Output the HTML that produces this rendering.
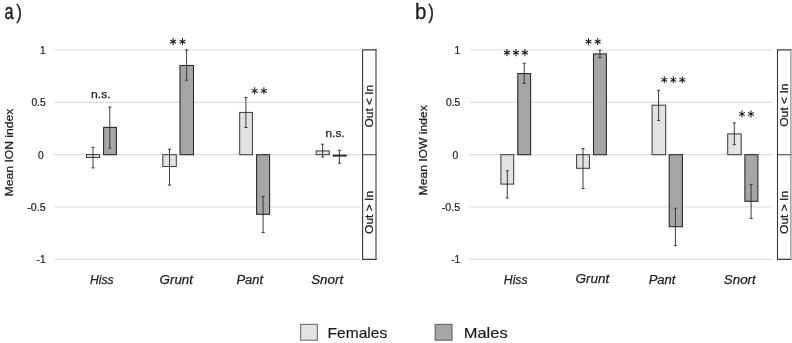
<!DOCTYPE html>
<html><head><meta charset="utf-8"><title>Figure</title>
<style>
html,body{margin:0;padding:0;background:#ffffff;}
body{width:792px;height:343px;overflow:hidden;}
svg{display:block;filter:blur(0.35px);}
svg text{font-family:"Liberation Sans",sans-serif;fill:#1c1c1c;}
</style></head>
<body>
<svg width="792" height="343" viewBox="0 0 792 343">
<rect x="0" y="0" width="792" height="343" fill="#ffffff"/>
<line x1="54.6" y1="49.9" x2="360.6" y2="49.9" stroke="#e3e3e3" stroke-width="1.2"/>
<line x1="54.6" y1="102.4" x2="360.6" y2="102.4" stroke="#dcdcdc" stroke-width="1.2"/>
<line x1="54.6" y1="154.7" x2="360.6" y2="154.7" stroke="#dcdcdc" stroke-width="1.2"/>
<line x1="54.6" y1="207.0" x2="360.6" y2="207.0" stroke="#dcdcdc" stroke-width="1.2"/>
<line x1="54.6" y1="259.4" x2="360.6" y2="259.4" stroke="#dcdcdc" stroke-width="1.2"/>
<rect x="86.50" y="154.60" width="13.10" height="2.90" fill="#e2e2e2" stroke="#383838" stroke-width="1.0"/>
<path d="M93.00 147.40V167.90M91.40 147.40H94.60M91.40 167.90H94.60" stroke="#333333" stroke-width="0.95" fill="none"/>
<rect x="103.60" y="127.40" width="12.80" height="27.30" fill="#a6a6a6" stroke="#2a2a2a" stroke-width="1.1"/>
<path d="M109.80 107.10V148.10M108.20 107.10H111.40M108.20 148.10H111.40" stroke="#333333" stroke-width="0.95" fill="none"/>
<rect x="162.80" y="154.70" width="13.50" height="11.80" fill="#e2e2e2" stroke="#383838" stroke-width="1.0"/>
<path d="M169.50 149.30V185.10M167.90 149.30H171.10M167.90 185.10H171.10" stroke="#333333" stroke-width="0.95" fill="none"/>
<rect x="180.00" y="65.50" width="13.50" height="89.20" fill="#a6a6a6" stroke="#2a2a2a" stroke-width="1.1"/>
<path d="M186.60 49.90V80.20M185.00 49.90H188.20M185.00 80.20H188.20" stroke="#333333" stroke-width="0.95" fill="none"/>
<rect x="239.70" y="112.40" width="12.70" height="42.30" fill="#e2e2e2" stroke="#383838" stroke-width="1.0"/>
<path d="M245.90 97.40V127.50M244.30 97.40H247.50M244.30 127.50H247.50" stroke="#333333" stroke-width="0.95" fill="none"/>
<rect x="256.60" y="154.70" width="13.00" height="59.60" fill="#a6a6a6" stroke="#2a2a2a" stroke-width="1.1"/>
<path d="M263.10 196.40V232.50M261.50 196.40H264.70M261.50 232.50H264.70" stroke="#333333" stroke-width="0.95" fill="none"/>
<rect x="316.20" y="150.90" width="13.00" height="3.80" fill="#e2e2e2" stroke="#383838" stroke-width="1.0"/>
<path d="M322.60 144.20V157.00M321.00 144.20H324.20M321.00 157.00H324.20" stroke="#333333" stroke-width="0.95" fill="none"/>
<rect x="333.30" y="155.10" width="13.00" height="1.00" fill="#a6a6a6" stroke="#2a2a2a" stroke-width="0.95"/>
<path d="M339.40 150.30V163.20M337.80 150.30H341.00M337.80 163.20H341.00" stroke="#333333" stroke-width="0.95" fill="none"/>
<line x1="469.6" y1="49.9" x2="772.8" y2="49.9" stroke="#e3e3e3" stroke-width="1.2"/>
<line x1="469.6" y1="102.4" x2="772.8" y2="102.4" stroke="#dcdcdc" stroke-width="1.2"/>
<line x1="469.6" y1="154.7" x2="772.8" y2="154.7" stroke="#dcdcdc" stroke-width="1.2"/>
<line x1="469.6" y1="207.0" x2="772.8" y2="207.0" stroke="#dcdcdc" stroke-width="1.2"/>
<line x1="469.6" y1="259.4" x2="772.8" y2="259.4" stroke="#dcdcdc" stroke-width="1.2"/>
<rect x="500.90" y="154.70" width="12.80" height="29.40" fill="#e2e2e2" stroke="#383838" stroke-width="1.0"/>
<path d="M507.30 170.70V198.00M505.70 170.70H508.90M505.70 198.00H508.90" stroke="#333333" stroke-width="0.95" fill="none"/>
<rect x="517.80" y="73.60" width="12.80" height="81.10" fill="#a6a6a6" stroke="#2a2a2a" stroke-width="1.1"/>
<path d="M524.20 63.30V83.40M522.60 63.30H525.80M522.60 83.40H525.80" stroke="#333333" stroke-width="0.95" fill="none"/>
<rect x="576.60" y="154.70" width="12.80" height="13.60" fill="#e2e2e2" stroke="#383838" stroke-width="1.0"/>
<path d="M583.00 148.60V188.50M581.40 148.60H584.60M581.40 188.50H584.60" stroke="#333333" stroke-width="0.95" fill="none"/>
<rect x="593.50" y="53.90" width="12.90" height="100.80" fill="#a6a6a6" stroke="#2a2a2a" stroke-width="1.1"/>
<path d="M599.90 50.30V57.60M598.30 50.30H601.50M598.30 57.60H601.50" stroke="#333333" stroke-width="0.95" fill="none"/>
<rect x="652.10" y="105.20" width="13.60" height="49.50" fill="#e2e2e2" stroke="#383838" stroke-width="1.0"/>
<path d="M658.60 90.30V120.40M657.00 90.30H660.20M657.00 120.40H660.20" stroke="#333333" stroke-width="0.95" fill="none"/>
<rect x="669.20" y="154.70" width="13.20" height="72.00" fill="#a6a6a6" stroke="#2a2a2a" stroke-width="1.1"/>
<path d="M675.40 208.20V245.60M673.80 208.20H677.00M673.80 245.60H677.00" stroke="#333333" stroke-width="0.95" fill="none"/>
<rect x="727.70" y="133.90" width="13.50" height="20.80" fill="#e2e2e2" stroke="#383838" stroke-width="1.0"/>
<path d="M734.30 122.90V144.60M732.70 122.90H735.90M732.70 144.60H735.90" stroke="#333333" stroke-width="0.95" fill="none"/>
<rect x="744.90" y="154.70" width="13.00" height="46.60" fill="#a6a6a6" stroke="#2a2a2a" stroke-width="1.1"/>
<path d="M751.10 184.40V218.40M749.50 184.40H752.70M749.50 218.40H752.70" stroke="#333333" stroke-width="0.95" fill="none"/>
<rect x="362.6" y="49.9" width="13.40" height="209.50" fill="#ffffff" stroke="none"/>
<path d="M376.0 49.9H362.6V259.4H376.0M362.6 154.7H376.0" fill="none" stroke="#3a3a3a" stroke-width="1.1" stroke-linecap="square"/>
<line x1="376.0" y1="49.9" x2="376.0" y2="259.4" stroke="#3a3a3a" stroke-width="1.1" stroke-linecap="square"/>
<rect x="777.5" y="49.9" width="13.40" height="209.50" fill="#ffffff" stroke="none"/>
<path d="M790.9 49.9H777.5V259.4H790.9M777.5 154.7H790.9" fill="none" stroke="#3a3a3a" stroke-width="1.1" stroke-linecap="square"/>
<line x1="790.9" y1="49.9" x2="790.9" y2="259.4" stroke="#7d7d7d" stroke-width="1.1" stroke-linecap="square"/>
<path d="M173.10 38.05V45.15M170.20 39.93L176.00 43.27M176.00 39.93L170.20 43.27" stroke="#1c1c1c" stroke-width="1.05" fill="none"/>
<path d="M182.50 38.05V45.15M179.60 39.93L185.40 43.27M185.40 39.93L179.60 43.27" stroke="#1c1c1c" stroke-width="1.05" fill="none"/>
<path d="M254.70 87.25V94.35M251.80 89.12L257.60 92.47M257.60 89.12L251.80 92.47" stroke="#1c1c1c" stroke-width="1.05" fill="none"/>
<path d="M263.90 87.25V94.35M261.00 89.12L266.80 92.47M266.80 89.12L261.00 92.47" stroke="#1c1c1c" stroke-width="1.05" fill="none"/>
<path d="M506.90 49.05V56.15M504.00 50.93L509.80 54.27M509.80 50.93L504.00 54.27" stroke="#1c1c1c" stroke-width="1.05" fill="none"/>
<path d="M515.90 49.05V56.15M513.00 50.93L518.80 54.27M518.80 50.93L513.00 54.27" stroke="#1c1c1c" stroke-width="1.05" fill="none"/>
<path d="M524.90 49.05V56.15M522.00 50.93L527.80 54.27M527.80 50.93L522.00 54.27" stroke="#1c1c1c" stroke-width="1.05" fill="none"/>
<path d="M588.50 38.05V45.15M585.60 39.93L591.40 43.27M591.40 39.93L585.60 43.27" stroke="#1c1c1c" stroke-width="1.05" fill="none"/>
<path d="M597.70 38.05V45.15M594.80 39.93L600.60 43.27M600.60 39.93L594.80 43.27" stroke="#1c1c1c" stroke-width="1.05" fill="none"/>
<path d="M664.30 76.25V83.35M661.40 78.12L667.20 81.47M667.20 78.12L661.40 81.47" stroke="#1c1c1c" stroke-width="1.05" fill="none"/>
<path d="M673.30 76.25V83.35M670.40 78.12L676.20 81.47M676.20 78.12L670.40 81.47" stroke="#1c1c1c" stroke-width="1.05" fill="none"/>
<path d="M682.30 76.25V83.35M679.40 78.12L685.20 81.47M685.20 78.12L679.40 81.47" stroke="#1c1c1c" stroke-width="1.05" fill="none"/>
<path d="M742.00 110.45V117.55M739.10 112.33L744.90 115.67M744.90 112.33L739.10 115.67" stroke="#1c1c1c" stroke-width="1.05" fill="none"/>
<path d="M751.00 110.45V117.55M748.10 112.33L753.90 115.67M753.90 112.33L748.10 115.67" stroke="#1c1c1c" stroke-width="1.05" fill="none"/>
<text x="91.0" y="98.4" font-size="11.5" text-anchor="start" textLength="19.6" lengthAdjust="spacingAndGlyphs" stroke="#1c1c1c" stroke-width="0.25" >n.s.</text>
<text x="325.6" y="137.1" font-size="11.5" text-anchor="start" textLength="19.0" lengthAdjust="spacingAndGlyphs" stroke="#1c1c1c" stroke-width="0.25" >n.s.</text>
<text x="45.6" y="53.9" font-size="10.2" text-anchor="end" stroke="#1c1c1c" stroke-width="0.2" >1</text>
<text x="45.6" y="106.4" font-size="10.2" text-anchor="end" stroke="#1c1c1c" stroke-width="0.2" >0.5</text>
<text x="43.6" y="158.7" font-size="10.2" text-anchor="end" stroke="#1c1c1c" stroke-width="0.2" >0</text>
<text x="45.6" y="211.0" font-size="10.2" text-anchor="end" textLength="18.4" lengthAdjust="spacingAndGlyphs" stroke="#1c1c1c" stroke-width="0.2" >-0.5</text>
<text x="45.6" y="263.4" font-size="10.2" text-anchor="end" stroke="#1c1c1c" stroke-width="0.2" >-1</text>
<text x="460.2" y="53.9" font-size="10.2" text-anchor="end" stroke="#1c1c1c" stroke-width="0.2" >1</text>
<text x="460.2" y="106.4" font-size="10.2" text-anchor="end" stroke="#1c1c1c" stroke-width="0.2" >0.5</text>
<text x="458.2" y="158.7" font-size="10.2" text-anchor="end" stroke="#1c1c1c" stroke-width="0.2" >0</text>
<text x="460.2" y="211.0" font-size="10.2" text-anchor="end" textLength="18.4" lengthAdjust="spacingAndGlyphs" stroke="#1c1c1c" stroke-width="0.2" >-0.5</text>
<text x="460.2" y="263.4" font-size="10.2" text-anchor="end" stroke="#1c1c1c" stroke-width="0.2" >-1</text>
<text x="13.0" y="152.5" font-size="11.2" text-anchor="middle" textLength="87.6" lengthAdjust="spacingAndGlyphs" transform="rotate(-90 13.0 152.5)" stroke="#1c1c1c" stroke-width="0.25" >Mean ION index</text>
<text x="427.2" y="150.3" font-size="11.2" text-anchor="middle" textLength="90.3" lengthAdjust="spacingAndGlyphs" transform="rotate(-90 427.2 150.3)" stroke="#1c1c1c" stroke-width="0.25" >Mean IOW index</text>
<text x="373.1" y="106.1" font-size="11.3" text-anchor="middle" textLength="42.6" lengthAdjust="spacingAndGlyphs" transform="rotate(-90 373.1 106.1)" stroke="#1c1c1c" stroke-width="0.25" >Out &lt; In</text>
<text x="373.1" y="212.4" font-size="11.3" text-anchor="middle" textLength="43" lengthAdjust="spacingAndGlyphs" transform="rotate(-90 373.1 212.4)" stroke="#1c1c1c" stroke-width="0.25" >Out &gt; In</text>
<text x="788.2" y="105.1" font-size="11.3" text-anchor="middle" textLength="43.4" lengthAdjust="spacingAndGlyphs" transform="rotate(-90 788.2 105.1)" stroke="#1c1c1c" stroke-width="0.25" >Out &lt; In</text>
<text x="788.0" y="212.4" font-size="11.3" text-anchor="middle" textLength="43" lengthAdjust="spacingAndGlyphs" transform="rotate(-90 788.0 212.4)" stroke="#1c1c1c" stroke-width="0.25" >Out &gt; In</text>
<text x="90.0" y="283.6" font-size="12.5" text-anchor="start" textLength="23.6" lengthAdjust="spacingAndGlyphs" stroke="#1c1c1c" stroke-width="0.25" font-style="italic">Hiss</text>
<text x="159.6" y="283.6" font-size="12.5" text-anchor="start" textLength="33.4" lengthAdjust="spacingAndGlyphs" stroke="#1c1c1c" stroke-width="0.25" font-style="italic">Grunt</text>
<text x="236.4" y="283.6" font-size="12.5" text-anchor="start" textLength="26.8" lengthAdjust="spacingAndGlyphs" stroke="#1c1c1c" stroke-width="0.25" font-style="italic">Pant</text>
<text x="311.2" y="283.6" font-size="12.5" text-anchor="start" textLength="32.0" lengthAdjust="spacingAndGlyphs" stroke="#1c1c1c" stroke-width="0.25" font-style="italic">Snort</text>
<text x="503.8" y="283.6" font-size="12.5" text-anchor="start" textLength="23.8" lengthAdjust="spacingAndGlyphs" stroke="#1c1c1c" stroke-width="0.25" font-style="italic">Hiss</text>
<text x="575.4" y="283.0" font-size="12.5" text-anchor="start" textLength="33.8" lengthAdjust="spacingAndGlyphs" stroke="#1c1c1c" stroke-width="0.25" font-style="italic">Grunt</text>
<text x="648.7" y="283.6" font-size="12.5" text-anchor="start" textLength="26.8" lengthAdjust="spacingAndGlyphs" stroke="#1c1c1c" stroke-width="0.25" font-style="italic">Pant</text>
<text x="723.8" y="283.6" font-size="12.5" text-anchor="start" textLength="32.0" lengthAdjust="spacingAndGlyphs" stroke="#1c1c1c" stroke-width="0.25" font-style="italic">Snort</text>
<text x="0" y="0" font-size="22" text-anchor="start" transform="translate(4.6 18.5) scale(0.74 1)" stroke="#1c1c1c" stroke-width="0.4" >a</text>
<text x="0" y="0" font-size="20.4" text-anchor="start" transform="translate(16.2 18.8) scale(0.84 1)" stroke="#1c1c1c" stroke-width="0.25" >)</text>
<text x="0" y="0" font-size="22" text-anchor="start" transform="translate(415.1 18.6) scale(0.93 1)" stroke="#1c1c1c" stroke-width="0.3" >b</text>
<text x="0" y="0" font-size="20.4" text-anchor="start" transform="translate(428.3 18.9) scale(0.84 1)" stroke="#1c1c1c" stroke-width="0.25" >)</text>
<rect x="300.6" y="324.4" width="16.8" height="15.8" fill="#e2e2e2" stroke="#7a7a7a" stroke-width="1.2"/>
<rect x="435.2" y="324.4" width="16.8" height="15.8" fill="#a6a6a6" stroke="#6a6a6a" stroke-width="1.2"/>
<text x="327.6" y="338.0" font-size="15" text-anchor="start" textLength="59.6" lengthAdjust="spacingAndGlyphs" stroke="#1c1c1c" stroke-width="0.2" >Females</text>
<text x="463.8" y="338.0" font-size="15" text-anchor="start" textLength="43.8" lengthAdjust="spacingAndGlyphs" stroke="#1c1c1c" stroke-width="0.2" >Males</text>
</svg>
</body></html>
